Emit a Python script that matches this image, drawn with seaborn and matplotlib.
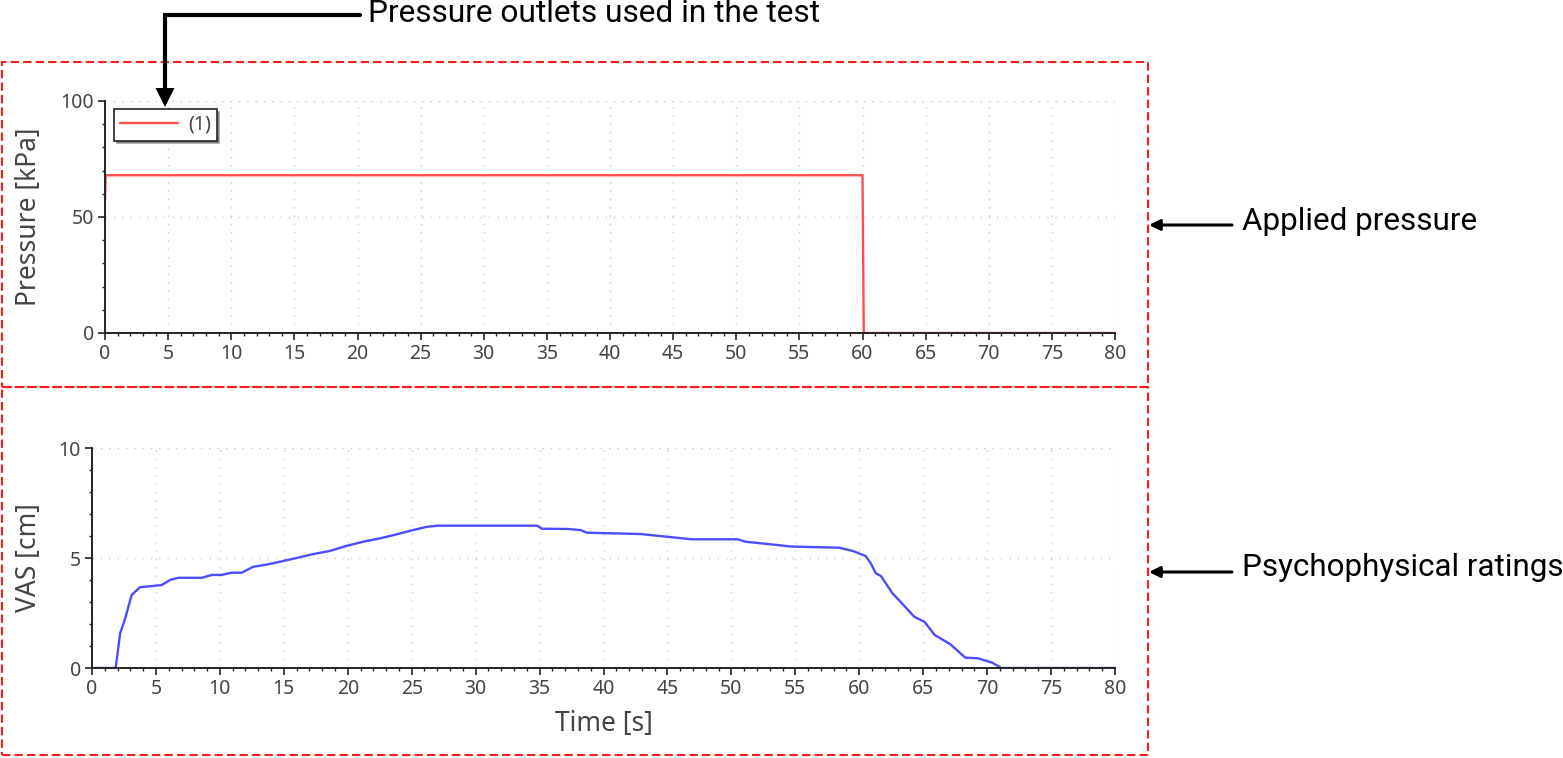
import matplotlib
matplotlib.use("Agg")
import matplotlib.pyplot as plt
import seaborn as sns
from matplotlib.patches import FancyArrowPatch, Rectangle
from matplotlib.path import Path
from matplotlib.ticker import MultipleLocator

# applied pressure, outlet (1)
time_pressure = [0.0, 0.05, 60.0, 60.1, 80.0]
pressure_kpa = [57, 68, 68, 0, 0]
legend_labels = ["(1)"]

# psychophysical rating (VAS)
time_vas = [0, 1.85, 2.2, 2.6, 3.1, 3.75, 5.45, 6.1, 6.75, 8.6, 9.35, 10.1, 10.9, 11.7,
            12.6, 13.65, 14.7, 16.0, 17.3, 18.6, 19.9, 21.2, 22.5, 23.8, 24.9, 26.2,
            27.1, 34.8, 35.2, 37.2, 38.2, 38.7, 42.9, 44.9, 46.9, 50.5, 51.1, 53.6,
            54.7, 58.4, 59.5, 60.5, 60.9, 61.3, 61.7, 62.6, 63.1, 64.3, 65.1, 65.9,
            67.1, 68.3, 69.3, 70.4, 71.1, 80]
vas_cm = [0, 0, 1.58, 2.26, 3.32, 3.67, 3.77, 4.0, 4.1, 4.1, 4.23, 4.23, 4.33, 4.33,
          4.6, 4.7, 4.83, 5.0, 5.18, 5.32, 5.55, 5.74, 5.89, 6.07, 6.24, 6.42,
          6.47, 6.47, 6.33, 6.32, 6.27, 6.15, 6.09, 5.97, 5.85, 5.85, 5.74, 5.59,
          5.52, 5.47, 5.32, 5.09, 4.76, 4.3, 4.18, 3.39, 3.09, 2.33, 2.1, 1.5,
          1.09, 0.47, 0.44, 0.24, 0, 0]

annotations = ["Pressure outlets used in the test", "Applied pressure", "Psychophysical ratings"]

sns.set_theme(style="ticks")
plt.rcParams['font.family'] = ['Noto Sans', 'DejaVu Sans']

W, H = 1563, 758
fig = plt.figure(figsize=(W / 100, H / 100), dpi=100)


def fx(x):
    return x / W


def fy(y):
    return 1 - y / H


def style_axis(ax, ymax, ymajor, yminor):
    ax.set_xlim(0, 80)
    ax.set_ylim(0, ymax)
    ax.xaxis.set_major_locator(MultipleLocator(5))
    ax.xaxis.set_minor_locator(MultipleLocator(1))
    ax.yaxis.set_major_locator(MultipleLocator(ymajor))
    ax.yaxis.set_minor_locator(MultipleLocator(yminor))
    ax.grid(True, which='major', linestyle=(0, (1, 5)), color='#c8c8c8', linewidth=1)
    for s in ['top', 'right']:
        ax.spines[s].set_visible(False)
    for s in ['left', 'bottom']:
        ax.spines[s].set_color('#222222')
        ax.spines[s].set_linewidth(1.4)
    ax.tick_params(which='major', length=5, width=1.2, color='#222222',
                   labelsize=14, labelcolor='#444444', pad=3)
    ax.tick_params(which='minor', length=2.5, width=1.0, color='#222222')


# top panel
ax1 = fig.add_axes([fx(105), fy(333), fx(1115) - fx(105), fy(101) - fy(333)])
sns.lineplot(x=time_pressure, y=pressure_kpa, ax=ax1, color='#ff4d4d', linewidth=1.7,
             estimator=None, sort=False, label=legend_labels[0])
style_axis(ax1, 100, 50, 10)
ax1.set_ylabel("Pressure [kPa]", fontsize=19, color='#444444')
ax1.yaxis.set_label_coords((43 - 105) / 1010, 0.5)
leg = ax1.legend(loc='upper left', bbox_to_anchor=(0.009, 0.966), borderaxespad=0,
                 fontsize=14, frameon=True, fancybox=False, shadow=True,
                 handlelength=3.0, handletextpad=0.5, borderpad=0.3,
                 labelcolor='#444444')
leg.get_frame().set_edgecolor('#222222')
leg.get_frame().set_linewidth(1.2)

# bottom panel
ax2 = fig.add_axes([fx(92), fy(668), fx(1115) - fx(92), fy(448) - fy(668)])
sns.lineplot(x=time_vas, y=vas_cm, ax=ax2, color='#4d4dff', linewidth=1.7,
             estimator=None, sort=False)
style_axis(ax2, 10, 5, 1)
ax2.set_ylabel("VAS [cm]", fontsize=19, color='#444444')
ax2.yaxis.set_label_coords((43 - 92) / 1023, 0.5)
ax2.set_xlabel("Time [s]", fontsize=19, color='#444444')
ax2.xaxis.set_label_coords(0.5, -(710 - 668) / 220)
ax2.xaxis.label.set_va('top')

# red dashed frames
red = '#ff1a1a'
for y0, y1 in [(62, 387), (387, 755)]:
    fig.add_artist(Rectangle((fx(2), fy(y1)), fx(1148) - fx(2), fy(y0) - fy(y1),
                             fill=False, edgecolor=red, linewidth=1.5,
                             linestyle=(0, (4, 2)), transform=fig.transFigure))

# annotation arrows and texts
txt_font = ['Roboto', 'DejaVu Sans']
path = Path([(fx(360), fy(15)), (fx(165), fy(15)), (fx(165), fy(107))],
            [Path.MOVETO, Path.LINETO, Path.LINETO])
fig.add_artist(FancyArrowPatch(path=path, arrowstyle='-|>', mutation_scale=22,
                               linewidth=3, color='black', shrinkA=0, shrinkB=0,
                               joinstyle='miter', transform=fig.transFigure))
fig.text(fx(368), fy(14), annotations[0], ha='left', va='center', fontsize=22.8,
         family=txt_font, color='black')

for y_txt, y_arr, label in [(221, 225, annotations[1]), (568, 572, annotations[2])]:
    fig.add_artist(FancyArrowPatch(posA=(fx(1232), fy(y_arr)), posB=(fx(1149), fy(y_arr)),
                                   arrowstyle='-|>', mutation_scale=16, linewidth=2.2,
                                   color='black', shrinkA=0, shrinkB=0,
                                   transform=fig.transFigure))
    fig.text(fx(1242), fy(y_txt), label, ha='left', va='center', fontsize=22.6,
             family=txt_font, color='black')

fig.savefig('out.png', dpi=100)
